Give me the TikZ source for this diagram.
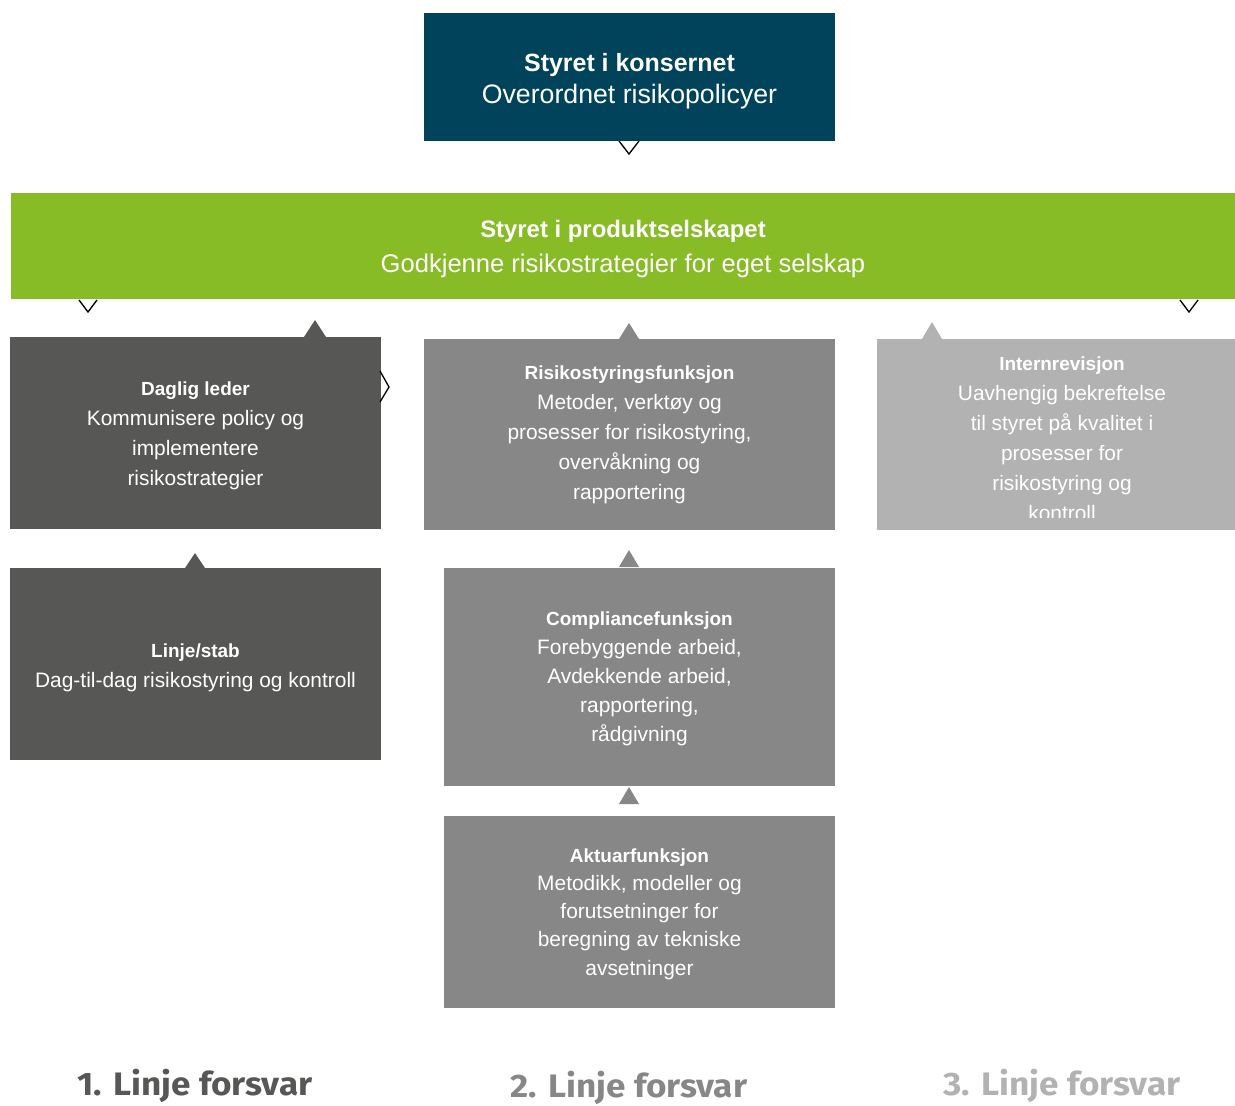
\documentclass[tikz,border=0pt]{standalone}
\usepackage{fontspec}
\setmainfont{Liberation Sans}
\newfontfamily\labelfont[FakeStretch=1.08]{Fira Sans}
\usetikzlibrary{positioning}
\definecolor{konsern}{HTML}{00435A}
\definecolor{produkt}{HTML}{88BC26}
\definecolor{linjeen}{HTML}{575756}
\definecolor{linjeto}{HTML}{878787}
\definecolor{linjetre}{HTML}{B2B2B2}

\newcommand{\tittel}[2][11pt]{{\rule{0pt}{#1}\fontsize{10.8}{17}\selectfont\bfseries #2}}
\newcommand{\stortittel}[3][14pt]{{\rule{0pt}{#1}\fontsize{#2}{18.1}\selectfont\bfseries #3}}

\tikzset{
  box/.style={inner sep=0pt, align=center, text=white,
    font=\fontsize{11.9}{17}\selectfont},
  bigbox/.style={box, font=\fontsize{15.2}{18.1}\selectfont},
  chevron/.style={draw=black, line width=0.75pt, fill=none},
  linjelabel/.style={anchor=base, inner sep=0pt,
    font=\labelfont\bfseries\fontsize{18.5}{22}\selectfont}
}

\begin{document}
\begin{tikzpicture}[x=0.02cm, y=-0.02cm]
  \useasboundingbox (0,0) rectangle (1235,1106);

  % styrene
  \node[bigbox, fill=konsern, minimum width=8.22cm, minimum height=2.56cm]
    (konsern) at (629.5,77) {\stortittel[15pt]{14.2}{Styret i konsernet}\\Overordnet risikopolicyer};
  \node[bigbox, fill=produkt, minimum width=24.48cm, minimum height=2.12cm,
    font=\fontsize{14.55}{19.8}\selectfont]
    (produkt) at (623,246) {\stortittel[13.2pt]{13.6}{Styret i produktselskapet}\\Godkjenne risikostrategier for eget selskap};

  % 1. linje
  \node[box, fill=linjeen, minimum width=7.42cm, minimum height=3.84cm]
    (daglig) at (195.5,433) {\tittel{Daglig leder}\\Kommunisere policy og\\implementere\\risikostrategier};
  \node[box, fill=linjeen, minimum width=7.42cm, minimum height=3.84cm]
    (stab) at (195.5,664) {\tittel[12pt]{Linje/stab}\\Dag-til-dag risikostyring og kontroll};

  % 2. linje
  \node[box, fill=linjeto, minimum width=8.22cm, minimum height=3.82cm]
    (risiko) at (629.5,434.5) {\tittel[8pt]{Risikostyringsfunksjon}\\Metoder, verktøy og\\prosesser for risikostyring,\\overvåkning og\\rapportering};
  \node[box, fill=linjeto, minimum width=7.82cm, minimum height=4.36cm,
    font=\fontsize{11.9}{16.4}\selectfont]
    (compliance) at (639.5,677) {\tittel[10pt]{Compliancefunksjon}\\Forebyggende arbeid,\\Avdekkende arbeid,\\rapportering,\\rådgivning};
  \node[box, fill=linjeto, minimum width=7.82cm, minimum height=3.84cm,
    font=\fontsize{11.9}{16.1}\selectfont]
    (aktuar) at (639.5,912) {\tittel[10pt]{Aktuarfunksjon}\\Metodikk, modeller og\\forutsetninger for\\beregning av tekniske\\avsetninger};

  % 3. linje
  \node[box, fill=linjetre, minimum width=7.16cm, minimum height=3.82cm]
    (intern) at (1056,434.5) {};
  \begin{scope}
    \clip (intern.north west) rectangle ([yshift=0.26cm]intern.south east);
    \node[box] (interntekst) at (1062,436) {\tittel{Internrevisjon}\\Uavhengig bekreftelse\\til styret på kvalitet i\\prosesser for\\risikostyring og\\kontroll};
  \end{scope}

  % trekanter
  \fill[linjeen] (304,337) -- (315,320) -- (326,337) -- cycle;
  \fill[linjeen] (185,568) -- (195,553) -- (205,568) -- cycle;
  \fill[linjeto] (619,339) -- (629,323) -- (639,339) -- cycle;
  \fill[linjeto] (619,567) -- (629,550) -- (639,567) -- cycle;
  \fill[linjeto] (619,804) -- (629,787) -- (639,804) -- cycle;
  \fill[linjetre] (922,339) -- (932,322) -- (942,339) -- cycle;

  % piler
  \draw[chevron] (619,141) -- (629,154) -- (639,141);
  \draw[chevron] (79,300) -- (88,312) -- (97,300);
  \draw[chevron] (1180,300) -- (1189,312) -- (1198,300);
  \draw[chevron] (380,371) -- (389,387) -- (380,402);

  % linjer
  \node[linjelabel, text=linjeen] (linje1) at (195,1095) {1. Linje forsvar};
  \node[linjelabel, text=linjeto] (linje2) at (629,1097) {2. Linje forsvar};
  \node[linjelabel, text=linjetre] (linje3) at (1062,1095) {3. Linje forsvar};
\end{tikzpicture}
\end{document}
